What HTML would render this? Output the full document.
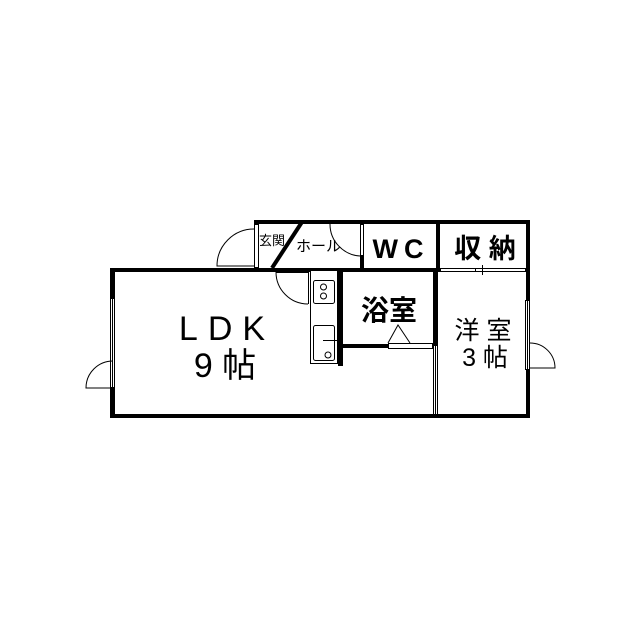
<!DOCTYPE html>
<html><head><meta charset="utf-8"><style>
html,body{margin:0;padding:0;background:#fff;}
svg{display:block}
text{font-family:"Liberation Sans","Noto Sans CJK JP",sans-serif;fill:#000}
.b{font-weight:bold}
</style></head><body>
<svg width="640" height="640" viewBox="0 0 640 640" xmlns="http://www.w3.org/2000/svg">
<rect width="640" height="640" fill="#fff"/>
<g fill="#000">
<rect x="254" y="220" width="276" height="4"/>
<rect x="526" y="220" width="4" height="80"/>
<rect x="526" y="370" width="4" height="48"/>
<rect x="436" y="220" width="4" height="50"/>
<rect x="360" y="256" width="4" height="14"/>
<rect x="110" y="268" width="420" height="4"/>
<rect x="110" y="268" width="5" height="30"/>
<rect x="110" y="388" width="5" height="30"/>
<rect x="110" y="414" width="420" height="4"/>
<rect x="338" y="270" width="5" height="96"/>
<rect x="338" y="344" width="50" height="4"/>
<rect x="433" y="270" width="5" height="75"/>
</g>
<g fill="#fff" stroke="#000" stroke-width="1">
<rect x="254.5" y="224.5" width="4" height="43"/>
<rect x="110.5" y="298.5" width="4" height="89"/>
<line x1="112.5" y1="298" x2="112.5" y2="388"/>
<rect x="525.5" y="300.5" width="4" height="69"/>
<line x1="527.5" y1="300" x2="527.5" y2="370"/>
<rect x="360.5" y="224.5" width="3" height="31"/>
<rect x="440.5" y="268.5" width="45" height="3"/>
<rect x="475.5" y="268.5" width="50" height="3"/>
<line x1="482.5" y1="265" x2="482.5" y2="275"/>
<rect x="388.5" y="343.5" width="44" height="5"/>
<rect x="433.5" y="345.5" width="4" height="69"/>
<line x1="435.5" y1="345" x2="435.5" y2="415"/>
<rect x="310.5" y="270.5" width="27" height="93"/>
<rect x="313.5" y="280.5" width="21" height="23" rx="2"/>
<circle cx="323.5" cy="287" r="3"/>
<circle cx="323.5" cy="296" r="3"/>
<rect x="313.5" y="325.5" width="21" height="35" rx="2"/>
<circle cx="328" cy="355" r="3"/>
<line x1="323" y1="340.5" x2="337" y2="340.5"/>
</g>
<g fill="none" stroke="#000" stroke-width="1">
<path d="M254 229 A37 37 0 0 0 217 266 L254 266"/>
<path d="M113 361 A27 27 0 0 0 86 388 L111 388"/>
<path d="M530 343 A25 25 0 0 1 555 368 L530 368"/>
<path d="M276 272 A32 32 0 0 0 308 304"/>
<line x1="276" y1="272.5" x2="308" y2="272.5"/>
<line x1="308.5" y1="272" x2="308.5" y2="304"/>
<path d="M330 224 A32 32 0 0 0 360 256"/>
<path d="M388 343 L398 325 L410 343"/>
</g>
<line x1="302" y1="222" x2="272" y2="268" stroke="#000" stroke-width="4"/>
<text x="259" y="245" font-size="13">玄関</text>
<text x="296" y="251" font-size="15">ホール</text>
<text class="b" x="401" y="258" font-size="27" text-anchor="middle" letter-spacing="6">WC</text>
<text class="b" x="485" y="258" font-size="27" text-anchor="middle">収 納</text>
<text x="227" y="340" font-size="34" text-anchor="middle" letter-spacing="10">LDK</text>
<text x="225" y="377" font-size="34" text-anchor="middle">9 帖</text>
<text class="b" x="389" y="320" font-size="28" text-anchor="middle">浴室</text>
<text x="483" y="339" font-size="25" text-anchor="middle">洋 室</text>
<text x="485" y="366" font-size="25" text-anchor="middle">3 帖</text>
</svg>
</body></html>
